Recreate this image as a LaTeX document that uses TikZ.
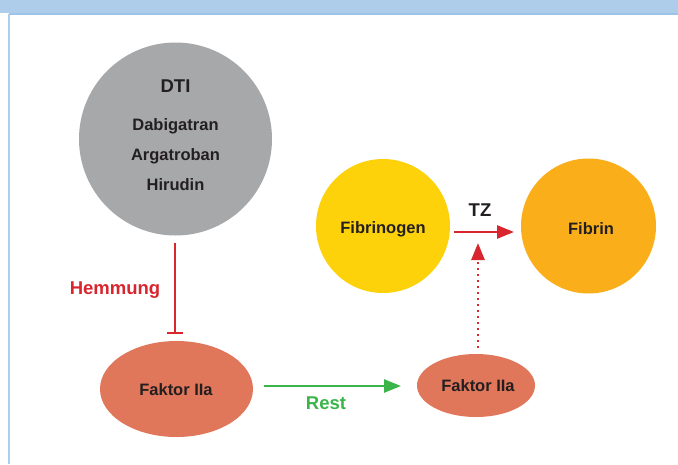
\documentclass[tikz,border=0pt]{standalone}
\usepackage{fontspec}
\setmainfont{Liberation Sans}
\usetikzlibrary{arrows.meta,calc,shapes.geometric}
\definecolor{dtigray}{HTML}{A7A8AA}
\definecolor{fgyellow}{HTML}{FDD20A}
\definecolor{fborange}{HTML}{F9AE1A}
\definecolor{fsalmon}{HTML}{E0765A}
\definecolor{redline}{HTML}{D9262E}
\definecolor{greenline}{HTML}{3BB54A}
\definecolor{bandblue}{HTML}{AECDEB}
\definecolor{lineblue}{HTML}{9DC3E6}
\definecolor{ink}{HTML}{231F20}
\begin{document}
\begin{tikzpicture}[x=1pt,y=-1pt,
  txt/.style={font=\bfseries\fontsize{16.5}{18}\selectfont, text=ink},
  big/.style={font=\bfseries\fontsize{18.5}{20}\selectfont},
  blob/.style={circle, inner sep=0pt},
  oval/.style={ellipse, inner sep=0pt},
  conn/.style={line width=2.6pt},
  tip/.style={-{Triangle[length=17pt,width=13pt]}},
]
\useasboundingbox (0,0) rectangle (678,464);
\fill[white] (0,0) rectangle (678,464);
\fill[bandblue] (0,0) rectangle (678,13);
\draw[lineblue, line width=1.5pt] (9,14) -- (678,14);
\draw[bandblue, line width=2pt] (9,14) -- (9,464);
% nodes
\node[blob, fill=dtigray, minimum size=193pt] (dti) at (175.5,139) {};
\node[txt, big] (dtit) at (175.5,86) {DTI};
\node[txt] (dab) at (175.5,126) {Dabigatran};
\node[txt] (arg) at (175.5,156) {Argatroban};
\node[txt] (hir) at (175.5,185) {Hirudin};
\node[blob, fill=fgyellow, minimum size=134pt] (fg) at (383,226) {};
\node[txt] (fgt) at (383,229) {Fibrinogen};
\node[blob, fill=fborange, minimum size=135pt] (fb) at (588.5,226) {};
\node[txt] (fbt) at (591,229) {Fibrin};
\node[oval, fill=fsalmon, minimum width=153pt, minimum height=96pt] (fa) at (176.5,389) {};
\node[txt] (fat) at (176,390) {Faktor IIa};
\node[oval, fill=fsalmon, minimum width=118pt, minimum height=63pt] (fr) at (476,385.5) {};
\node[txt] (frt) at (478,386) {Faktor IIa};
% connectors
\coordinate (hs) at (175,243);
\coordinate (he) at (175,333);
\coordinate (hl) at (167,333);
\coordinate (hr) at (183,333);
\draw[redline, conn] (hs) -- (he);
\draw[redline, conn] (hl) -- (hr);
\node[big, text=redline] (hem) at (115,290) {Hemmung};
\coordinate (gs) at (264,386);
\coordinate (ge) at (401,386);
\draw[greenline, conn, tip] (gs) -- (ge);
\node[big, text=greenline] (rest) at (326,403) {Rest};
\coordinate (ts) at (454,232);
\coordinate (te) at (514,232);
\draw[redline, conn, tip] (ts) -- (te);
\node[big, text=ink] (tz) at (480,210) {TZ};
\coordinate (ds) at (478,348);
\coordinate (de) at (478,243);
\draw[redline, line width=2.6pt, dash pattern=on 2.2pt off 3.8pt] (ds) -- ($(de)+(0,16)$);
\draw[redline, conn, tip] ($(de)+(0,17)$) -- (de);
\end{tikzpicture}
\end{document}
